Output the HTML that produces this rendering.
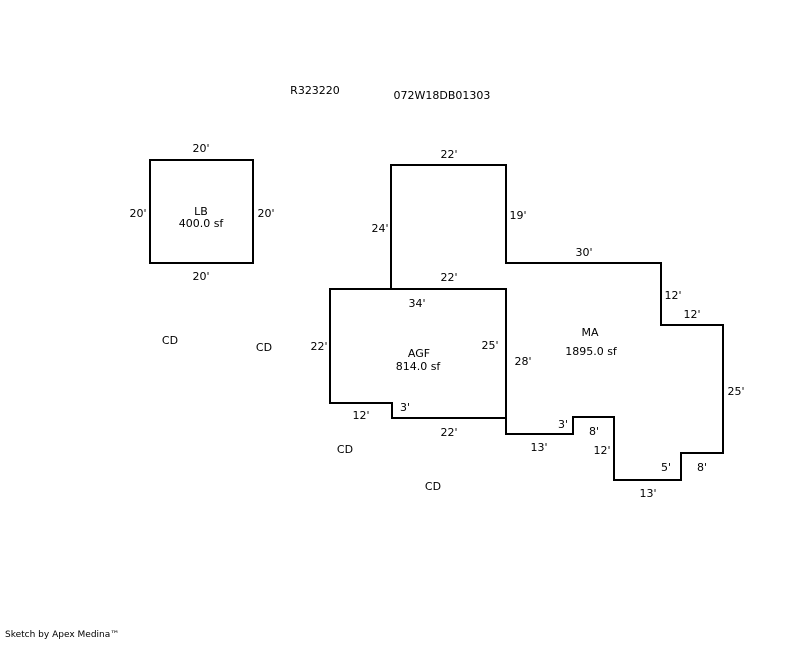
<!DOCTYPE html>
<html><head><style>body{margin:0;background:#fff}svg text{font-family:"DejaVu Sans",sans-serif;font-size:11px;fill:#000}</style></head>
<body>
<svg width="800" height="640" xmlns="http://www.w3.org/2000/svg">
<g fill="none" stroke="#000" stroke-width="2">
<rect x="150" y="160" width="103" height="103"/>
<polyline points="391,289 391,165 506,165 506,263 661,263 661,325 723,325 723,453 681,453 681,480 614,480 614,417 573,417 573,434 506,434 506,418"/>
<polygon points="330,289 506,289 506,418 392,418 392,403 330,403"/>
</g>
<g text-anchor="middle">
<text x="315" y="94">R323220</text>
<text x="442" y="99">072W18DB01303</text>
<text x="201" y="152">20'</text>
<text x="138" y="217">20'</text>
<text x="266" y="217">20'</text>
<text x="201" y="215">LB</text>
<text x="201" y="227">400.0 sf</text>
<text x="201" y="280">20'</text>
<text x="449" y="158">22'</text>
<text x="380" y="232">24'</text>
<text x="518" y="219">19'</text>
<text x="584" y="256">30'</text>
<text x="449" y="281">22'</text>
<text x="417" y="307">34'</text>
<text x="673" y="299">12'</text>
<text x="692" y="318">12'</text>
<text x="590" y="336">MA</text>
<text x="591" y="355">1895.0 sf</text>
<text x="490" y="349">25'</text>
<text x="523" y="365">28'</text>
<text x="419" y="357">AGF</text>
<text x="418" y="370">814.0 sf</text>
<text x="319" y="350">22'</text>
<text x="736" y="395">25'</text>
<text x="405" y="411">3'</text>
<text x="361" y="419">12'</text>
<text x="449" y="436">22'</text>
<text x="563" y="428">3'</text>
<text x="594" y="435">8'</text>
<text x="539" y="451">13'</text>
<text x="602" y="454">12'</text>
<text x="666" y="471">5'</text>
<text x="702" y="471">8'</text>
<text x="648" y="497">13'</text>
<text x="170" y="344">CD</text>
<text x="264" y="351">CD</text>
<text x="345" y="453">CD</text>
<text x="433" y="490">CD</text>
</g>
<text x="5" y="637" style="font-size:9px">Sketch by Apex Medina™</text>
</svg>
</body></html>
